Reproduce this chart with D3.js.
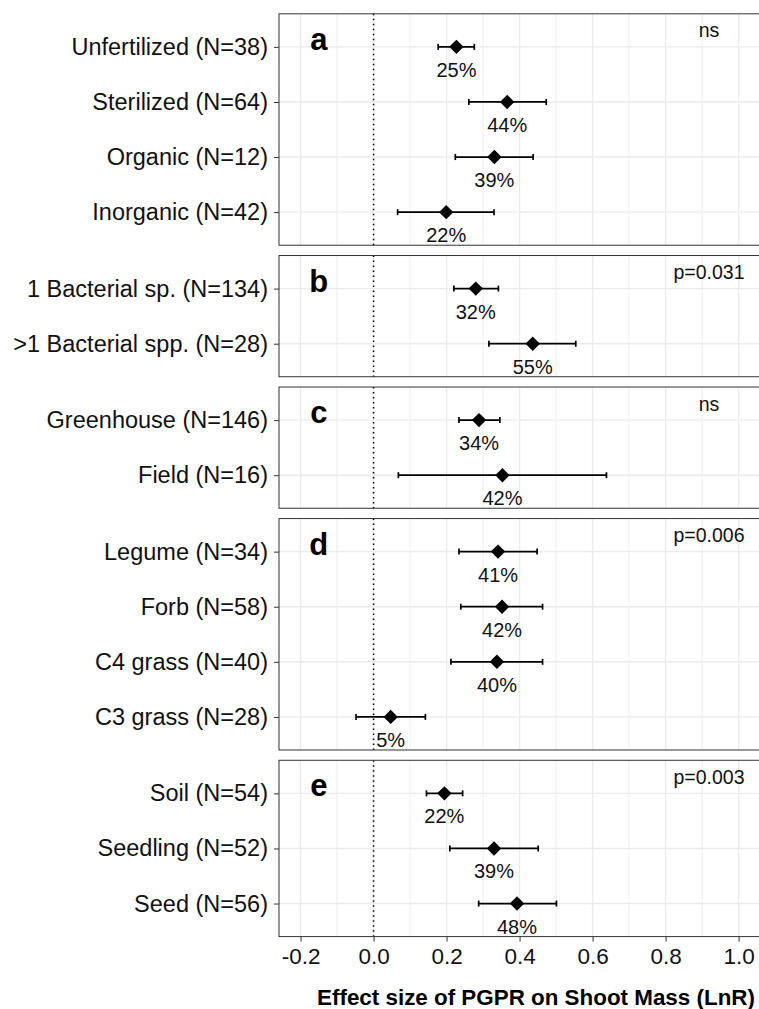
<!DOCTYPE html>
<html>
<head>
<meta charset="utf-8">
<script src="https://cdn.jsdelivr.net/npm/d3@7"></script>
<style>
  body { margin: 0; background: #fff; }
  svg { display: block; font-family: "Liberation Sans", Arial, Helvetica, sans-serif; }
</style>
</head>
<body>
<svg></svg>
<script>
const svgWidth = 759;
const svgHeight = 1009;
const svg = d3.select("svg").attr("width", svgWidth).attr("height", svgHeight);

// panel data
const panelLetters = ["a", "b", "c", "d", "e"];
const panelNotes = ["ns", "p=0.031", "ns", "p=0.006", "p=0.003"];
const categories = [
  ["Unfertilized (N=38)", "Sterilized (N=64)", "Organic (N=12)", "Inorganic (N=42)"],
  ["1 Bacterial sp. (N=134)", ">1 Bacterial spp. (N=28)"],
  ["Greenhouse (N=146)", "Field (N=16)"],
  ["Legume (N=34)", "Forb (N=58)", "C4 grass (N=40)", "C3 grass (N=28)"],
  ["Soil (N=54)", "Seedling (N=52)", "Seed (N=56)"]
];
const estimates = [
  [0.227, 0.366, 0.331, 0.199],
  [0.280, 0.436],
  [0.289, 0.353],
  [0.341, 0.352, 0.338, 0.047],
  [0.194, 0.330, 0.393]
];
const lowerCI = [
  [0.177, 0.261, 0.224, 0.066],
  [0.220, 0.316],
  [0.234, 0.068],
  [0.234, 0.239, 0.212, -0.048],
  [0.145, 0.209, 0.288]
];
const upperCI = [
  [0.276, 0.473, 0.437, 0.330],
  [0.342, 0.554],
  [0.346, 0.638],
  [0.448, 0.463, 0.463, 0.142],
  [0.244, 0.451, 0.501]
];
const pctLabels = [
  ["25%", "44%", "39%", "22%"],
  ["32%", "55%"],
  ["34%", "42%"],
  ["41%", "42%", "40%", "5%"],
  ["22%", "39%", "48%"]
];
const xTicks = [-0.2, 0.0, 0.2, 0.4, 0.6, 0.8, 1.0];
const xMinor = [-0.1, 0.1, 0.3, 0.5, 0.7, 0.9, 1.1];
const xTitle = "Effect size of PGPR on Shoot Mass (LnR)";

const left = 279, right = 793;
const top0 = 13.8, step = 55.1, padUnits = 0.6, gap = 10.3;

const x = d3.scaleLinear().domain([-0.259, 1.149]).range([left, right]);

const gridColor = "#ebebeb";
const borderColor = "#333";

let panelTop = top0;
categories.forEach((cats, i) => {
  const h = step * (cats.length - 1 + 2 * padUnits);
  const y = d3.scalePoint().domain(cats).range([panelTop, panelTop + h]).padding(padUnits);
  const g = svg.append("g");

  // grid
  g.selectAll(".minor").data(xMinor).join("line")
    .attr("x1", d => x(d)).attr("x2", d => x(d))
    .attr("y1", panelTop).attr("y2", panelTop + h)
    .attr("stroke", gridColor).attr("stroke-width", 0.9);
  g.selectAll(".major").data(xTicks).join("line")
    .attr("x1", d => x(d)).attr("x2", d => x(d))
    .attr("y1", panelTop).attr("y2", panelTop + h)
    .attr("stroke", gridColor).attr("stroke-width", 1.4);
  g.selectAll(".hgrid").data(cats).join("line")
    .attr("x1", left).attr("x2", right)
    .attr("y1", d => y(d)).attr("y2", d => y(d))
    .attr("stroke", gridColor).attr("stroke-width", 1.4);

  // zero reference line
  g.append("line")
    .attr("x1", x(0)).attr("x2", x(0))
    .attr("y1", panelTop).attr("y2", panelTop + h)
    .attr("stroke", "#000").attr("stroke-width", 1.5)
    .attr("stroke-dasharray", "1.5 3.5");

  // error bars
  const rows = cats.map((c, j) => ({c, est: estimates[i][j], lo: lowerCI[i][j], hi: upperCI[i][j], lab: pctLabels[i][j]}));
  const bars = g.selectAll(".bar").data(rows).join("g");
  bars.append("line")
    .attr("x1", d => x(d.lo)).attr("x2", d => x(d.hi))
    .attr("y1", d => y(d.c)).attr("y2", d => y(d.c))
    .attr("stroke", "#000").attr("stroke-width", 1.7);
  bars.append("line")
    .attr("x1", d => x(d.lo)).attr("x2", d => x(d.lo))
    .attr("y1", d => y(d.c) - 3).attr("y2", d => y(d.c) + 3)
    .attr("stroke", "#000").attr("stroke-width", 1.7);
  bars.append("line")
    .attr("x1", d => x(d.hi)).attr("x2", d => x(d.hi))
    .attr("y1", d => y(d.c) - 3).attr("y2", d => y(d.c) + 3)
    .attr("stroke", "#000").attr("stroke-width", 1.7);
  bars.append("path")
    .attr("d", d => {
      const cx = x(d.est), cy = y(d.c), r = 7.2;
      return `M${cx},${cy - r}L${cx + r},${cy}L${cx},${cy + r}L${cx - r},${cy}Z`;
    })
    .attr("fill", "#000");
  bars.append("text")
    .attr("x", d => x(d.est)).attr("y", d => y(d.c) + 30)
    .attr("text-anchor", "middle")
    .attr("font-size", "20px").attr("fill", "#111")
    .text(d => d.lab);

  // panel letter and note
  g.append("text")
    .attr("x", x(-0.15)).attr("y", panelTop + 36)
    .attr("text-anchor", "middle")
    .attr("font-size", "31px").attr("font-weight", "bold")
    .text(panelLetters[i]);
  g.append("text")
    .attr("x", x(0.919)).attr("y", panelTop + 23.5)
    .attr("text-anchor", "middle")
    .attr("font-size", "19.5px").attr("fill", "#111")
    .text(panelNotes[i]);

  // panel border
  g.append("rect")
    .attr("x", left).attr("y", panelTop)
    .attr("width", right - left).attr("height", h)
    .attr("fill", "none").attr("stroke", borderColor).attr("stroke-width", 1);

  // y axis
  const ya = g.append("g")
    .attr("transform", `translate(${left},0)`)
    .call(d3.axisLeft(y).tickSize(5).tickPadding(6));
  ya.select(".domain").remove();
  ya.selectAll(".tick line").attr("stroke", borderColor);
  ya.selectAll(".tick text")
    .attr("font-size", "23.5px").attr("fill", "#111")
    .attr("font-family", "Liberation Sans, Arial, sans-serif");

  if (i === categories.length - 1) {
    const xa = g.append("g")
      .attr("transform", `translate(0,${panelTop + h})`)
      .call(d3.axisBottom(x).tickValues(xTicks).tickSize(5).tickPadding(6)
        .tickFormat(d => d.toFixed(1)));
    xa.select(".domain").remove();
    xa.selectAll(".tick line").attr("stroke", borderColor);
    xa.selectAll(".tick text")
      .attr("font-size", "22.5px").attr("fill", "#111")
      .attr("font-family", "Liberation Sans, Arial, sans-serif");

    svg.append("text")
      .attr("x", (left + right) / 2).attr("y", 1005)
      .attr("text-anchor", "middle")
      .attr("font-size", "22.4px").attr("font-weight", "bold")
      .text(xTitle);
  }

  panelTop += h + gap;
});
</script>
</body>
</html>
